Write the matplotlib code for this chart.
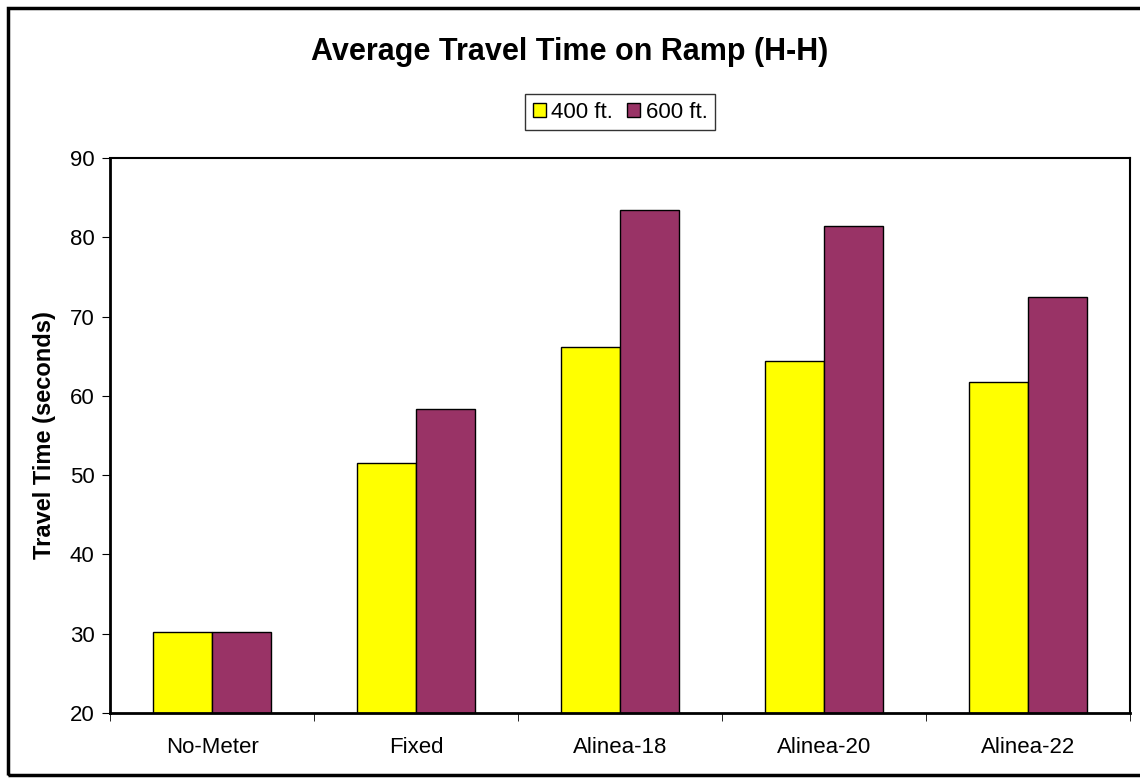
import matplotlib.pyplot as plt
import numpy as np
from matplotlib.patches import Rectangle

plt.rcParams['font.family'] = ['Liberation Sans', 'DejaVu Sans']

categories = ['No-Meter', 'Fixed', 'Alinea-18', 'Alinea-20', 'Alinea-22']
ft400 = [30.2, 51.5, 66.2, 64.4, 61.8]
ft600 = [30.2, 58.3, 83.5, 81.4, 72.5]
yticks = [20, 30, 40, 50, 60, 70, 80, 90]

fig = plt.figure(figsize=(11.4, 7.78), dpi=100)
ax = fig.add_axes([110/1140, 1-713/778, 1020/1140, 555/778])

x = np.arange(len(categories))
w = 0.29
ax.bar(x - w/2, ft400, w, color='#FFFF00', edgecolor='black', linewidth=1, label='400 ft.')
ax.bar(x + w/2, ft600, w, color='#993366', edgecolor='black', linewidth=1, label='600 ft.')

ax.set_xlim(-0.5, len(categories) - 0.5)
ax.set_ylim(20, 90)
ax.set_yticks(yticks)
ax.set_xticks(x)
ax.set_xticklabels(categories, fontsize=16)
ax.tick_params(axis='x', length=0, pad=17)
ax.set_xticks(np.arange(-0.5, len(categories)), minor=True)
ax.tick_params(axis='x', which='minor', length=6, direction='out')
ax.tick_params(axis='y', labelsize=16, length=6, direction='out', pad=5)
for s in ax.spines.values():
    s.set_linewidth(1.5)
    s.set_color('black')
ax.spines['left'].set_linewidth(2)
ax.spines['bottom'].set_linewidth(2)

ax.set_ylabel('Travel Time (seconds)', fontsize=17, fontweight='bold', labelpad=10)

fig.text(0.5, 1-52/778, 'Average Travel Time on Ramp (H-H)', fontsize=22, fontweight='bold',
         ha='center', va='center')

leg = fig.legend(loc='center', bbox_to_anchor=(620/1140, 1-112/778), ncol=2, fontsize=16,
                 frameon=True, fancybox=False, edgecolor='black', handlelength=0.6,
                 handleheight=0.6, handletextpad=0.25, columnspacing=0.6, borderpad=0.35,
                 borderaxespad=0)
leg.get_frame().set_linewidth(1)

fig.patches.append(Rectangle((8/1140, 3/778), 1.2, 1-11/778, transform=fig.transFigure,
                             fill=False, edgecolor='black', linewidth=2.5))

fig.savefig('out.png', dpi=100)
